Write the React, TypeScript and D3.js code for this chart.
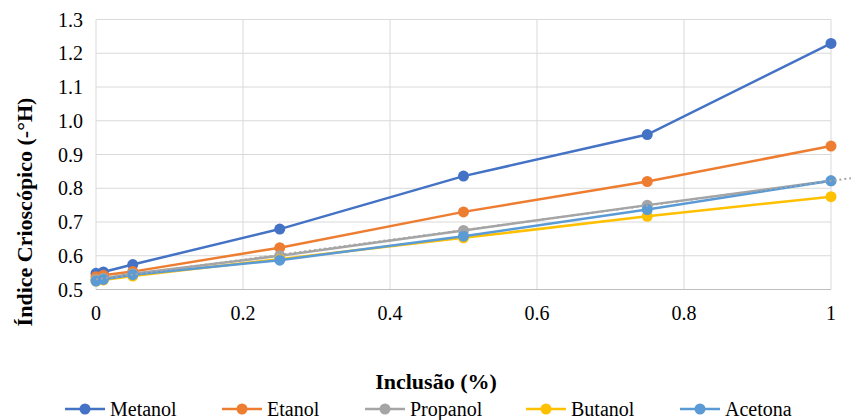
import React from "react";
import * as d3 from "d3";

const xValues = [0, 0.01, 0.05, 0.25, 0.5, 0.75, 1];
const metanol = [0.548, 0.552, 0.574, 0.679, 0.836, 0.959, 1.229];
const etanol = [0.538, 0.542, 0.553, 0.624, 0.73, 0.82, 0.925];
const propanol = [0.53, 0.533, 0.547, 0.6, 0.675, 0.75, 0.822];
const butanol = [0.525, 0.528, 0.54, 0.59, 0.653, 0.717, 0.775];
const acetona = [0.525, 0.53, 0.544, 0.587, 0.658, 0.737, 0.822];
const seriesNames = ["Metanol", "Etanol", "Propanol", "Butanol", "Acetona"];
const seriesColors = ["#4472C4", "#ED7D31", "#A5A5A5", "#FFC000", "#5B9BD5"];
const xTicks = [0, 0.2, 0.4, 0.6, 0.8, 1];
const yTicks = [0.5, 0.6, 0.7, 0.8, 0.9, 1.0, 1.1, 1.2, 1.3];
const trendForecastEnd = 1.03;

const W = 851;
const H = 420;

export default function App() {
  const x = d3.scaleLinear().domain([0, 1]).range([96, 831]);
  const y = d3.scaleLinear().domain([0.5, 1.3]).range([289.5, 19.5]);
  const allSeries = [metanol, etanol, propanol, butanol, acetona];

  const line = d3
    .line<number>()
    .x((_, i) => x(xValues[i]))
    .y((v) => y(v));

  // linear trendline of Propanol (least squares)
  const mx = d3.mean(xValues)!;
  const my = d3.mean(propanol)!;
  const sxy = d3.sum(xValues.map((xv, i) => (xv - mx) * (propanol[i] - my)));
  const sxx = d3.sum(xValues.map((xv) => (xv - mx) * (xv - mx)));
  const slope = sxy / sxx;
  const intercept = my - slope * mx;

  const legendX = [65, 222, 365, 526, 680];

  return (
    <svg
      width={W}
      height={H}
      style={{ position: "absolute", left: 0, top: 0, background: "#fff" }}
    >
      <style>{`.lbl { font-family: "Tinos", "Liberation Serif", "Times New Roman", serif; font-weight: 400; }
.ttl { font-family: "Liberation Serif", "Tinos", serif; font-weight: 700; }`}</style>
      {/* gridlines */}
      {yTicks.map((t) => (
        <line key={"gy" + t} x1={x(0)} x2={x(1)} y1={y(t)} y2={y(t)} stroke="#D9D9D9" strokeWidth={1} />
      ))}
      {xTicks.map((t) => (
        <line key={"gx" + t} x1={x(t)} x2={x(t)} y1={y(1.3)} y2={y(0.5)} stroke="#D9D9D9" strokeWidth={1} />
      ))}
      <line x1={x(0)} x2={x(1)} y1={y(0.5)} y2={y(0.5)} stroke="#BFBFBF" strokeWidth={1} />

      {/* y tick labels */}
      {yTicks.map((t) => (
        <text key={"ty" + t} className="lbl" x={83} y={y(t) + 7} textAnchor="end" fontSize={20} fill="#000">
          {t.toFixed(1)}
        </text>
      ))}
      {/* x tick labels */}
      {xTicks.map((t) => (
        <text key={"tx" + t} className="lbl" x={x(t)} y={320} textAnchor="middle" fontSize={20} fill="#000">
          {d3.format("~g")(t)}
        </text>
      ))}

      {/* series */}
      {allSeries.map((s, si) => (
        <g key={seriesNames[si]}>
          <path d={line(s)!} fill="none" stroke={seriesColors[si]} strokeWidth={2.5} />
          {s.map((v, i) => (
            <circle key={i} cx={x(xValues[i])} cy={y(v)} r={5.5} fill={seriesColors[si]} />
          ))}
        </g>
      ))}

      {/* trendline */}
      <line
        x1={x(0)}
        y1={y(intercept)}
        x2={x(trendForecastEnd)}
        y2={y(intercept + slope * trendForecastEnd)}
        stroke="#A5A5A5"
        strokeWidth={2}
        strokeDasharray="2 3"
      />

      {/* axis titles */}
      <text
        className="ttl"
        transform={`translate(32, 212) rotate(-90)`}
        textAnchor="middle"
        fontSize={22}
        fill="#000"
      >
        Índice Crioscópico (-°H)
      </text>
      <text className="ttl" x={436} y={389} textAnchor="middle" fontSize={22} fill="#000">
        Inclusão (%)
      </text>

      {/* legend */}
      {seriesNames.map((n, i) => (
        <g key={"lg" + n}>
          <line x1={legendX[i]} x2={legendX[i] + 40} y1={409} y2={409} stroke={seriesColors[i]} strokeWidth={2.5} />
          <circle cx={legendX[i] + 20} cy={409} r={5.5} fill={seriesColors[i]} />
          <text className="lbl" x={legendX[i] + 45} y={416} fontSize={20} fill="#000">
            {n}
          </text>
        </g>
      ))}
    </svg>
  );
}
